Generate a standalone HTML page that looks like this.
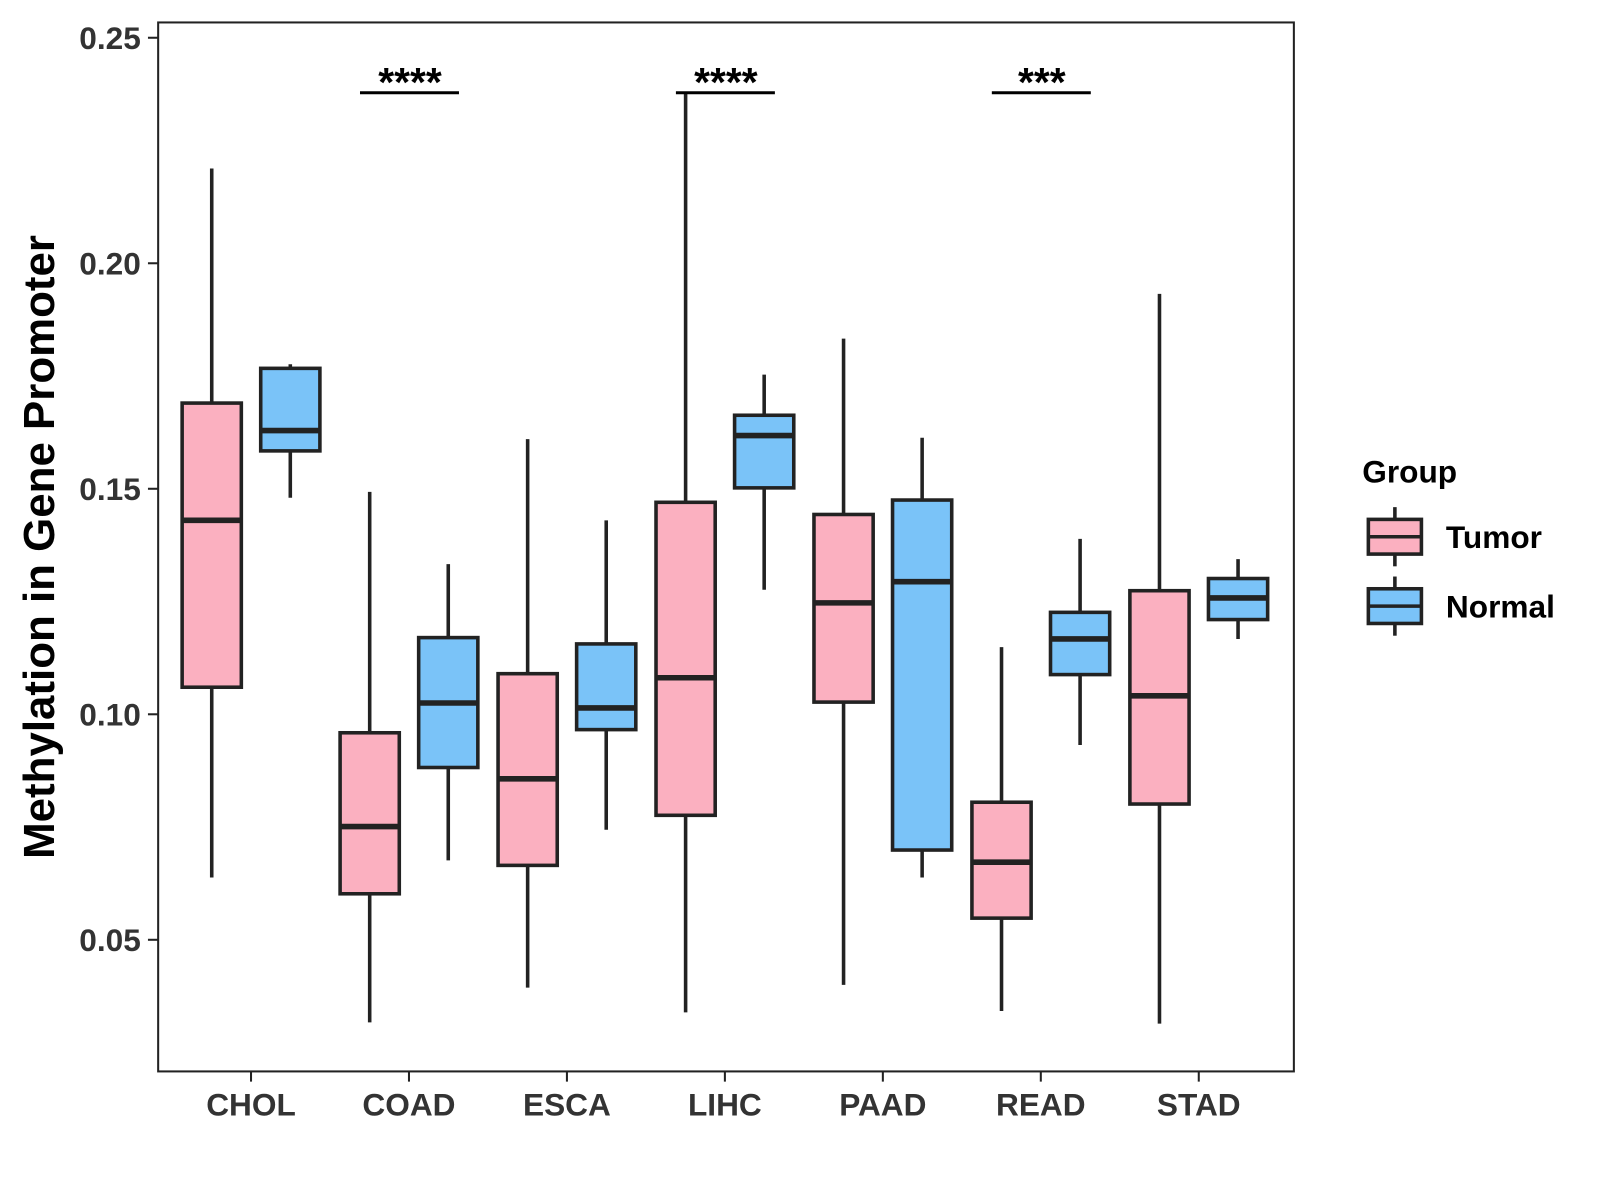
<!DOCTYPE html>
<html><head><meta charset="utf-8"><style>
html,body{margin:0;padding:0;background:#fff;}
svg{display:block;font-family:"Liberation Sans",Arial,sans-serif;}
</style></head><body>
<svg id="chart" width="1600" height="1200" viewBox="0 0 1600 1200">
<g transform="scale(1.0204)">
<rect x="155" y="22" width="1113" height="1028" fill="#fff" stroke="#222" stroke-width="2"/>
<g id="marks"></g>
<g id="axes"></g>
<text x="0" y="0" transform="translate(53,536) rotate(-90)" text-anchor="middle" font-size="43" font-weight="bold" fill="#000">Methylation in Gene Promoter</text>
<g>
<text x="1335" y="473" font-size="31" font-weight="bold" fill="#000">Group</text>
<g>
<line x1="1367" y1="497" x2="1367" y2="555" stroke="#222" stroke-width="3.5"/>
<rect x="1341" y="509" width="52" height="34" fill="#FBB0C0" stroke="#222" stroke-width="3.5"/>
<line x1="1341" y1="526" x2="1393" y2="526" stroke="#222" stroke-width="3.5"/>
<text x="1417" y="537" font-size="31" font-weight="bold" fill="#000">Tumor</text>
</g>
<g>
<line x1="1367" y1="565" x2="1367" y2="623" stroke="#222" stroke-width="3.5"/>
<rect x="1341" y="577" width="52" height="34" fill="#7AC3F8" stroke="#222" stroke-width="3.5"/>
<line x1="1341" y1="594" x2="1393" y2="594" stroke="#222" stroke-width="3.5"/>
<text x="1417" y="605" font-size="31" font-weight="bold" fill="#000">Normal</text>
</g>
</g>
</g>
</svg>
<script>
const categories=["CHOL","COAD","ESCA","LIHC","PAAD","READ","STAD"];
// [lower whisker, q1, median, q3, upper whisker]
const tumorStats=[[0.0638,0.106,0.143,0.169,0.221],[0.0317,0.0602,0.0751,0.0959,0.1493],[0.0394,0.0665,0.0857,0.109,0.161],[0.0339,0.0776,0.1081,0.147,0.2378],[0.040,0.1027,0.1247,0.1443,0.1833],[0.0342,0.0548,0.0672,0.0805,0.1149],[0.0314,0.0801,0.1041,0.1274,0.1932]];
const normalStats=[[0.148,0.1584,0.1629,0.1767,0.1776],[0.0676,0.0882,0.1025,0.117,0.1333],[0.0744,0.0966,0.1014,0.1156,0.143],[0.1276,0.1502,0.1618,0.1663,0.1753],[0.0638,0.0699,0.1294,0.1475,0.1613],[0.0932,0.1088,0.1167,0.1226,0.1389],[0.1167,0.121,0.1258,0.1301,0.1344]];
const yTicks=[0.05,0.10,0.15,0.20,0.25];
const yTickLabels=["0.05","0.10","0.15","0.20","0.25"];
const sigCategories=["COAD","LIHC","READ"];
const sigLabels=["****","****","***"];
const sigLevel=[0.2378,0.2378,0.2378];

const NS="http://www.w3.org/2000/svg";
function yScale(v){return 700-(v-0.10)*4420;}
function xScale(i){return 246+i*154.8;}
function mk(tag,attrs,parent){const e=document.createElementNS(NS,tag);for(const k in attrs)e.setAttribute(k,attrs[k]);parent.appendChild(e);return e;}
const marks=document.getElementById('marks'),axes=document.getElementById('axes');
const BW=58,OFF=38.5;
function drawBox(s,cx,fill,name){
  const g=mk('g',{},marks);
  
  
  mk('line',{x1:cx,x2:cx,y1:yScale(s[4]),y2:yScale(s[0]),stroke:'#222','stroke-width':3.5},g);
  mk('rect',{x:cx-BW/2,y:yScale(s[3]),width:BW,height:yScale(s[1])-yScale(s[3]),fill:fill,stroke:'#222','stroke-width':3.5},g);
  mk('line',{x1:cx-BW/2,x2:cx+BW/2,y1:yScale(s[2]),y2:yScale(s[2]),stroke:'#222','stroke-width':5.5},g);
}
categories.forEach((c,i)=>{
  drawBox(tumorStats[i],xScale(i)-OFF,'#FBB0C0','box-'+c.toLowerCase()+'-tumor');
  drawBox(normalStats[i],xScale(i)+OFF,'#7AC3F8','box-'+c.toLowerCase()+'-normal');
  const t=mk('line',{x1:xScale(i),x2:xScale(i),y1:1050,y2:1060,stroke:'#222','stroke-width':2},axes);
  
  
  const l=mk('text',{x:xScale(i),y:1093,'text-anchor':'middle','font-size':31,'font-weight':'bold',fill:'#333'},axes);
  l.textContent=c;
  
  
});
yTicks.forEach((v,i)=>{
  const t=mk('line',{x1:145,x2:155,y1:yScale(v),y2:yScale(v),stroke:'#222','stroke-width':2},axes);
  
  
  const l=mk('text',{x:138,y:yScale(v)+11,'text-anchor':'end','font-size':31,'font-weight':'bold',fill:'#333'},axes);
  l.textContent=yTickLabels[i];
  
  
});
sigCategories.forEach((c,k)=>{
  const i=categories.indexOf(c);
  const y=yScale(sigLevel[k]);
  const b=mk('line',{x1:xScale(i)-48,x2:xScale(i)+49,y1:y,y2:y,stroke:'#000','stroke-width':3},marks);
  
  
  const s=mk('text',{x:xScale(i)+1,y:y+3,'text-anchor':'middle','font-size':40,'font-weight':'bold',fill:'#000'},marks);
  s.textContent=sigLabels[k];
  
  
});
</script>
</body></html>
